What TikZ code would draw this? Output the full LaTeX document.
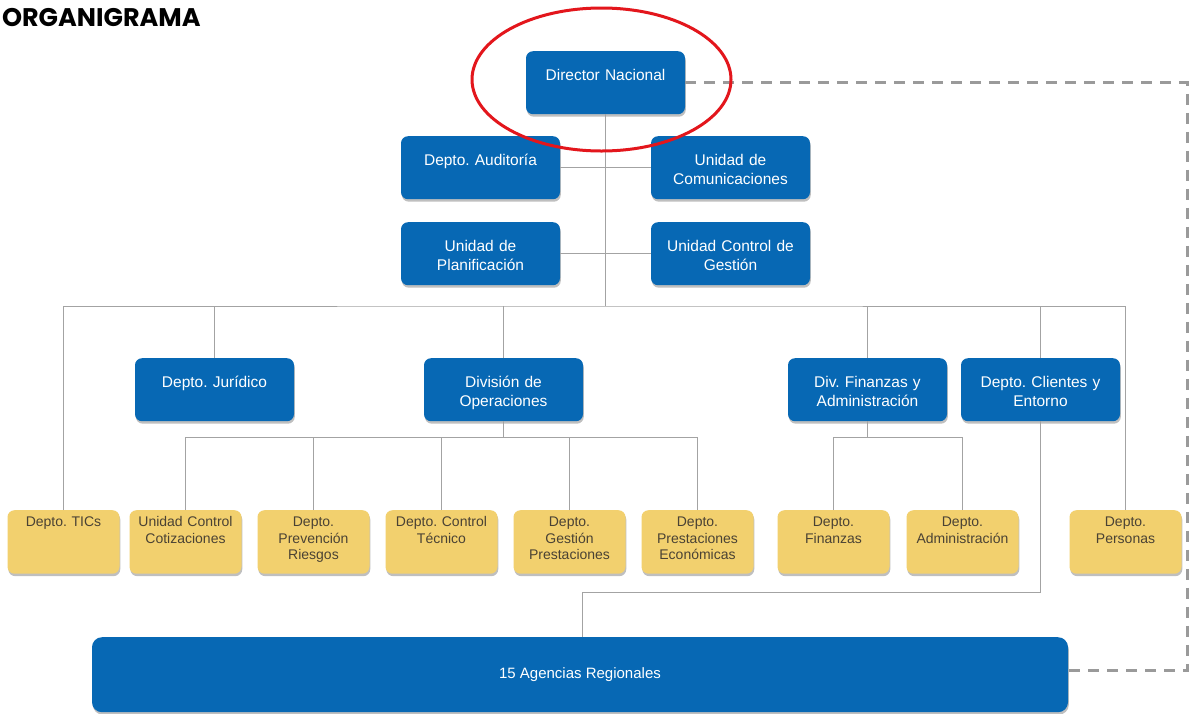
\documentclass[tikz,border=0pt]{standalone}
\usepackage{fontspec}
\setmainfont{Liberation Sans}
\newfontfamily\titlefont{Poppins}
\usepackage{tikz}
\usetikzlibrary{calc, shadows}
\usepackage{xcolor}
\definecolor{orgBlue}{HTML}{0768B4}
\definecolor{orgGold}{HTML}{F2D06E}
\definecolor{orgInk}{HTML}{4A4234}
\definecolor{orgLine}{HTML}{A3A3A3}
\definecolor{orgDash}{HTML}{9A9A9A}
\definecolor{orgRed}{HTML}{E3161C}
\frenchspacing

\begin{document}
\begin{tikzpicture}[x=1pt, y=-1pt,
    bluebox/.style={rectangle, rounded corners=7pt, fill=orgBlue, text=white,
      text width=159pt, align=center, inner sep=0pt, text height=29pt, text depth=34pt,
      font=\fontsize{15.5}{19}\selectfont, anchor=north,
      drop shadow={shadow xshift=0.8pt, shadow yshift=-2.5pt, fill=black, opacity=0.25}},
    goldbox/.style={rectangle, rounded corners=7pt, fill=orgGold, text=orgInk,
      text width=112pt, align=center, inner sep=0pt, text height=16.5pt, text depth=47pt,
      font=\fontsize{14}{16.5}\selectfont, anchor=north,
      drop shadow={shadow xshift=0.8pt, shadow yshift=-2.5pt, fill=black, opacity=0.25}},
    link/.style={draw=orgLine, line width=1pt},
    dashlink/.style={draw=orgDash, line width=3pt, dash pattern=on 11pt off 8pt}]
  \useasboundingbox (0,0) rectangle (1189,713);
  \fill[white] (0,0) rectangle (1189,713);

  \node[anchor=base west, font=\titlefont\bfseries\fontsize{25.5}{30}\selectfont] (title) at (-1.5,26) {ORGANIGRAMA};

  % Direccion y unidades asesoras
  \foreach \id/\x/\y/\txt in {%
    dir/605.5/51/{Director Nacional},
    aud/480.5/136/{Depto. Auditoría},
    com/730.5/136/{Unidad de\\Comunicaciones},
    plan/480.5/222/{Unidad de\\Planificación},
    ctrl/730.5/222/{Unidad Control de\\Gestión},
    jur/214.5/358/{Depto. Jurídico},
    ops/503.5/358/{División de\\Operaciones},
    fin/867.5/358/{Div. Finanzas y\\Administración},
    cli/1040.5/358/{Depto. Clientes y\\Entorno}%
  } {
    \node[bluebox] (\id) at (\x,\y) {\txt};
  }

  % Departamentos
  \foreach \id/\x/\txt in {%
    tics/63.5/{Depto. TICs},
    coti/185.5/{Unidad Control\\Cotizaciones},
    prev/313.5/{Depto.\\Prevención\\Riesgos},
    tec/441.5/{Depto. Control\\Técnico},
    gest/569.5/{Depto.\\Gestión\\Prestaciones},
    econ/697.5/{Depto.\\Prestaciones\\Económicas},
    finz/833.5/{Depto.\\Finanzas},
    adm/962.5/{Depto.\\Administración},
    pers/1125.5/{Depto.\\Personas}%
  } {
    \node[goldbox] (\id) at (\x,510) {\txt};
  }

  \node[rectangle, rounded corners=10pt, fill=orgBlue, text=white, anchor=north,
    minimum width=976pt, minimum height=75pt, inner sep=0pt, font=\fontsize{15}{18}\selectfont,
    drop shadow={shadow xshift=0.8pt, shadow yshift=-2.5pt, fill=black, opacity=0.25}]
    (ag) at (580,637) {15 Agencias Regionales};

  % Lineas de dependencia
  \coordinate (bus) at (605.5,306);
  \draw[link] (dir.south) -- (bus);
  \draw[link] (aud.east) -- (com.west);
  \draw[link] (plan.east) -- (ctrl.west);
  \draw[link] (tics.north) |- (bus) -| (pers.north);
  \foreach \id in {jur,ops,fin,cli}
    \draw[link] (\id.north) -- (\id.north |- bus);

  \coordinate (opsbus) at ($(ops.south)+(0,16)$);
  \draw[link] (ops.south) -- (opsbus);
  \draw[link] (coti.north) |- (opsbus) -| (econ.north);
  \foreach \id in {prev,tec,gest}
    \draw[link] (\id.north) -- (\id.north |- opsbus);

  \coordinate (finbus) at ($(fin.south)+(0,16)$);
  \draw[link] (fin.south) -- (finbus);
  \draw[link] (finz.north) |- (finbus) -| (adm.north);

  \coordinate (agbend) at (582,592);
  \draw[link] (cli.south) |- (agbend) -- (agbend |- ag.north);

  % Relacion directa con agencias
  \coordinate (dashR) at (1187,0);
  \coordinate (agdash) at ($(ag.east)+(0,-4)$);
  \draw[dashlink] (dir.east) -- (dir.east -| dashR) -- (agdash -| dashR) -- (agdash);

  \draw[orgRed, line width=3pt] (601.5,79.5) ellipse [x radius=129.5, y radius=71.5];
\end{tikzpicture}
\end{document}
